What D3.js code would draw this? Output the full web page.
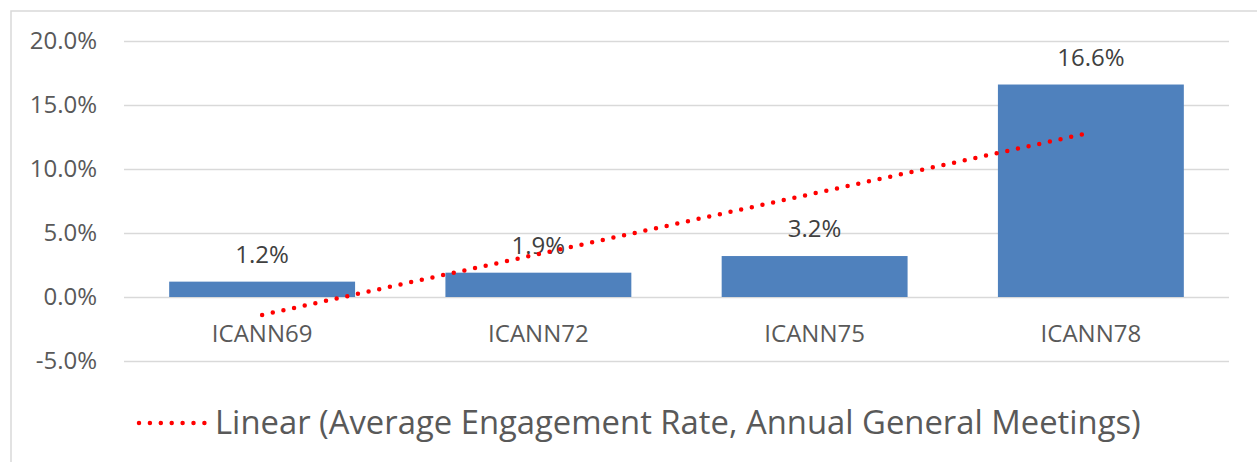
<!DOCTYPE html>
<html>
<head>
<meta charset="utf-8">
<script src="https://cdn.jsdelivr.net/npm/d3@7"></script>
<style>
  body { margin: 0; background: #fff; }
  svg { display: block; font-family: 'Open Sans', sans-serif; }
</style>
</head>
<body>
<script>
const categories = ['ICANN69', 'ICANN72', 'ICANN75', 'ICANN78'];
const rates = [1.2, 1.9, 3.2, 16.6];
const yTicks = [-5, 0, 5, 10, 15, 20];
const legendLabel = 'Linear (Average Engagement Rate, Annual General Meetings)';

const W = 1257, H = 462;
const M = {left: 124, right: 28, top: 41, bottom: 101};

const svg = d3.select('body').append('svg')
    .attr('width', W)
    .attr('height', H);

// outer border (cropped on right and bottom)
svg.append('rect')
    .attr('x', 11).attr('y', 11)
    .attr('width', W).attr('height', H)
    .attr('fill', 'none')
    .attr('stroke', '#d9d9d9')
    .attr('stroke-width', 1.5);

const x = d3.scaleBand()
    .domain(categories)
    .range([M.left, W - M.right])
    .paddingInner(0.327)
    .paddingOuter(0.1635);

const y = d3.scaleLinear()
    .domain([-5, 20])
    .range([H - M.bottom, M.top]);

// gridlines + tick labels
const yAxis = svg.append('g')
    .attr('transform', `translate(${M.left},0)`)
    .call(d3.axisLeft(y)
        .tickValues(yTicks)
        .tickSize(-(W - M.right - M.left))
        .tickPadding(27)
        .tickFormat(d => d.toFixed(1) + '%'));
yAxis.select('.domain').remove();
yAxis.selectAll('line').attr('stroke', '#d9d9d9').attr('stroke-width', 1.5);
yAxis.selectAll('text')
    .attr('fill', '#595959')
    .style('font-size', '24px')
    .style('font-family', "'Open Sans', sans-serif");

// bars
svg.selectAll('.bar')
    .data(rates)
    .enter()
    .append('rect')
    .attr('class', 'bar')
    .attr('x', (d, i) => x(categories[i]))
    .attr('y', d => y(d))
    .attr('width', x.bandwidth())
    .attr('height', d => y(0) - y(d))
    .attr('fill', '#4f81bd');

// category labels
svg.selectAll('.cat')
    .data(categories)
    .enter()
    .append('text')
    .attr('class', 'cat')
    .attr('x', d => x(d) + x.bandwidth() / 2)
    .attr('y', y(0) + 45)
    .attr('text-anchor', 'middle')
    .attr('fill', '#595959')
    .style('font-size', '24px')
    .text(d => d);

// data labels
svg.selectAll('.val')
    .data(rates)
    .enter()
    .append('text')
    .attr('class', 'val')
    .attr('x', (d, i) => x(categories[i]) + x.bandwidth() / 2)
    .attr('y', d => y(d) - 19)
    .attr('text-anchor', 'middle')
    .attr('fill', '#404040')
    .style('font-size', '24px')
    .text(d => d.toFixed(1) + '%');

// linear trendline (least squares over category index)
const n = rates.length;
const xs = rates.map((d, i) => i + 1);
const mx = d3.mean(xs), my = d3.mean(rates);
const slope = d3.sum(xs, (v, i) => (v - mx) * (rates[i] - my)) / d3.sum(xs, v => (v - mx) ** 2);
const icpt = my - slope * mx;
const trend = [1, n].map(v => [x(categories[v - 1]) + x.bandwidth() / 2, y(icpt + slope * v)]);

svg.append('path')
    .attr('d', d3.line()(trend))
    .attr('fill', 'none')
    .attr('stroke', '#ff0000')
    .attr('stroke-width', 4.5)
    .attr('stroke-linecap', 'round')
    .attr('stroke-dasharray', '0 10.9');

// legend
const legend = svg.append('g').attr('transform', 'translate(139,423)');
legend.append('line')
    .attr('x1', 0).attr('x2', 66)
    .attr('stroke', '#ff0000')
    .attr('stroke-width', 4.5)
    .attr('stroke-linecap', 'round')
    .attr('stroke-dasharray', '0 10.9');
legend.append('text')
    .attr('x', 76)
    .attr('y', 11)
    .attr('fill', '#595959')
    .style('font-size', '32.8px')
    .text(legendLabel);
</script>
</body>
</html>
